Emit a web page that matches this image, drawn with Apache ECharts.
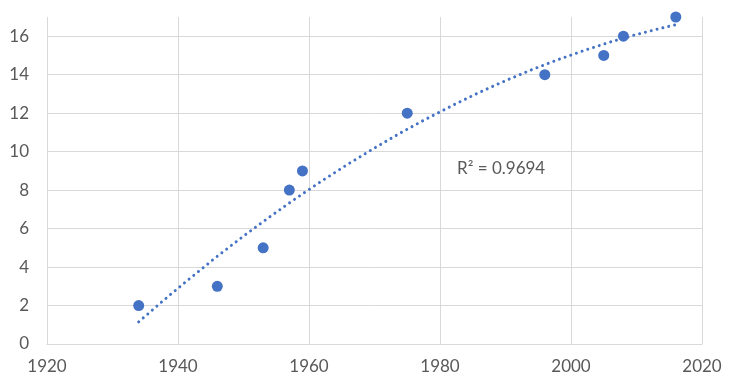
<!DOCTYPE html>
<html>
<head>
<meta charset="utf-8">
<script src="https://cdn.jsdelivr.net/npm/echarts@6/dist/echarts.min.js"></script>
<style>
html,body{margin:0;padding:0;background:#fff;}
#chart{width:730px;height:383px;}
</style>
</head>
<body>
<div id="chart"></div>
<script>
// Observed points
var years = [1934, 1946, 1953, 1957, 1959, 1975, 1996, 2005, 2008, 2016];
var values = [2, 3, 5, 8, 9, 12, 14, 15, 16, 17];

// Trendline (polynomial)
var trendYears = [1934, 1938, 1942, 1946, 1950, 1954, 1958, 1962, 1966, 1970, 1974, 1978, 1982, 1986, 1990, 1994, 1998, 2002, 2006, 2010, 2014, 2016];
var trendValues = [1.15, 2.33, 3.46, 4.56, 5.61, 6.61, 7.57, 8.49, 9.36, 10.19, 10.98, 11.72, 12.42, 13.08, 13.69, 14.26, 14.78, 15.26, 15.70, 16.09, 16.44, 16.60];

var rSquaredLabel = 'R² = 0.9694';

var xTicks = [1920, 1940, 1960, 1980, 2000, 2020];
var yTicks = [0, 2, 4, 6, 8, 10, 12, 14, 16];

var blue = '#4472C4';
var gridColor = '#d9d9d9';
var labelColor = '#595959';
var font = 'Lato';

var chart = echarts.init(document.getElementById('chart'), null, {renderer: 'canvas'});

var scatterData = years.map(function (y, i) { return [y, values[i]]; });
var trendData = trendYears.map(function (y, i) { return [y, trendValues[i]]; });

chart.setOption({
  animation: false,
  backgroundColor: '#fff',
  grid: {left: 47, right: 28, top: 17, bottom: 39, containLabel: false},
  xAxis: {
    type: 'value',
    min: xTicks[0],
    max: xTicks[xTicks.length - 1],
    interval: 20,
    axisLine: {show: true, lineStyle: {color: gridColor, width: 1}},
    axisTick: {show: false},
    axisLabel: {color: labelColor, fontFamily: font, fontSize: 17, margin: 14,
      formatter: function (v) { return String(v); }},
    splitLine: {show: true, lineStyle: {color: gridColor, width: 1}}
  },
  yAxis: {
    type: 'value',
    min: yTicks[0],
    max: 17,
    interval: 2,
    axisLine: {show: false},
    axisTick: {show: false},
    axisLabel: {color: labelColor, fontFamily: font, fontSize: 17, margin: 18, showMaxLabel: false},
    splitLine: {show: true, showMaxLine: false, lineStyle: {color: gridColor, width: 1}}
  },
  graphic: [{
    type: 'text',
    left: 457,
    top: 160,
    style: {text: rSquaredLabel, fill: labelColor, fontFamily: 'Lato', fontSize: 17}
  }],
  series: [
    {
      type: 'scatter',
      data: scatterData,
      symbol: 'circle',
      symbolSize: 11,
      itemStyle: {color: blue, opacity: 1},
      z: 2
    },
    {
      type: 'line',
      data: trendData,
      showSymbol: false,
      smooth: false,
      lineStyle: {color: blue, width: 3, type: [0.01, 6], cap: 'round'},
      z: 3
    }
  ]
});
</script>
</body>
</html>
